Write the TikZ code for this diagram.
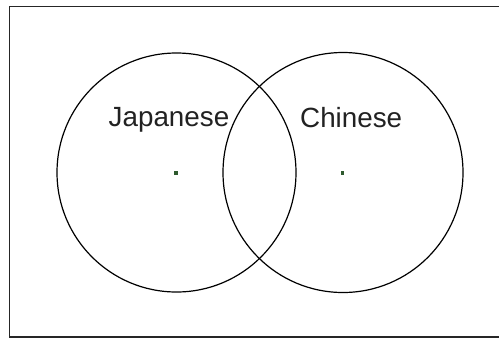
\documentclass[tikz,border=0pt]{standalone}
\usepackage{fontspec}
\setmainfont{Liberation Sans}
\definecolor{dotgreen}{HTML}{2E5A2E}
\definecolor{txt}{HTML}{222222}
\begin{document}
\begin{tikzpicture}[x=1pt,y=-1pt,
  circ/.style={draw=black,line width=1.2pt},
  lbl/.style={anchor=base west,inner sep=0pt,text=txt,font=\fontsize{27.8}{30}\selectfont},
  cdot/.style={fill=dotgreen,draw=none,minimum size=3.5pt,inner sep=0pt,rectangle}]
\useasboundingbox (0,0) rectangle (499,338);
\fill[white] (0,0) rectangle (499,338);
\coordinate (tr) at (499,6.5);
\coordinate (tl) at (9.5,6.5);
\coordinate (bl) at (9.5,337);
\coordinate (br) at (499,337);
\draw[line width=1.6pt,draw=black!85] (tr) -- (tl) -- (bl) -- (br);
\coordinate (cj) at (176.5,172.5);
\coordinate (cc) at (343,172.5);
\draw[circ] (cj) circle[radius=119.5];
\draw[circ] (cc) circle[radius=120];
\node[cdot] (dj) at (176,173) {};
\node[cdot] (dc) at (342.5,173) {};
\node[lbl] (jp) at (108.5,126.7) {Japanese};
\node[lbl] (cn) at (300,127.7) {Chinese};
\end{tikzpicture}
\end{document}
